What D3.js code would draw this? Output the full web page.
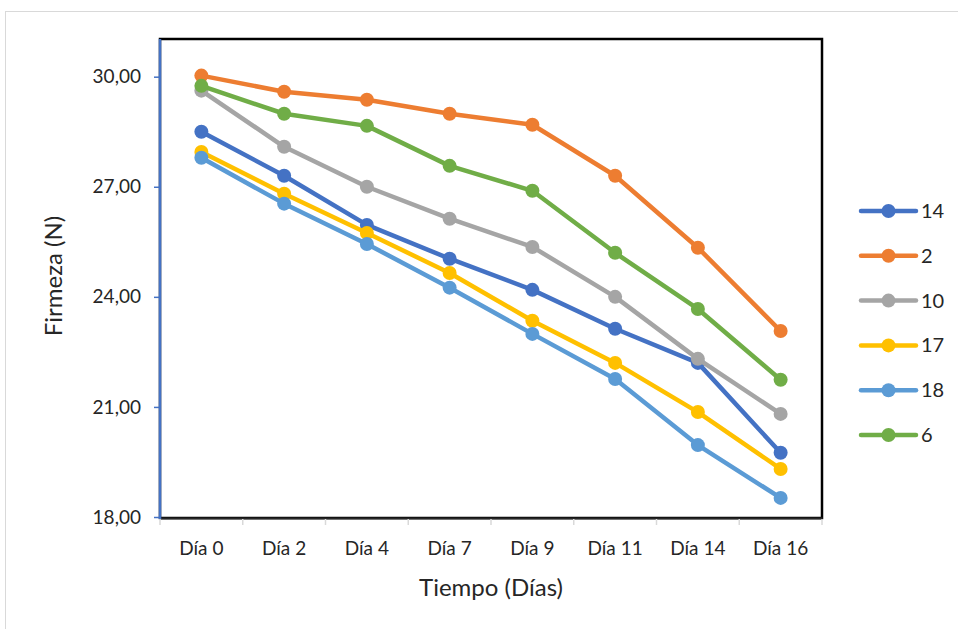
<!DOCTYPE html>
<html>
<head>
<meta charset="utf-8">
<script src="https://cdn.jsdelivr.net/npm/d3@7"></script>
<style>
  body { margin: 0; background: #fff; }
  text { font-family: Lato, "Open Sans", sans-serif; fill: #262626; }
</style>
</head>
<body>
<div id="chart"></div>
<script>
// categories and series
var days = ["Día 0", "Día 2", "Día 4", "Día 7", "Día 9", "Día 11", "Día 14", "Día 16"];
var seriesNames = ["14", "2", "10", "17", "18", "6"];
var seriesColors = ["#4472C4", "#ED7D31", "#A5A5A5", "#FFC000", "#5B9BD5", "#70AD47"];
var s14 = [28.50, 27.30, 25.96, 25.04, 24.19, 23.13, 22.20, 19.75];
var s2  = [30.03, 29.59, 29.37, 28.99, 28.69, 27.30, 25.34, 23.07];
var s10 = [29.62, 28.09, 27.00, 26.13, 25.36, 24.00, 22.31, 20.81];
var s17 = [27.95, 26.81, 25.74, 24.65, 23.35, 22.20, 20.86, 19.31];
var s18 = [27.79, 26.54, 25.44, 24.25, 22.99, 21.76, 19.96, 18.52];
var s6  = [29.75, 28.99, 28.66, 27.57, 26.89, 25.20, 23.67, 21.74];
var yTicks = [18, 21, 24, 27, 30];

var allSeries = [s14, s2, s10, s17, s18, s6];

var W = 958, H = 629;
var pLeft = 160, pRight = 822, pTop = 39, pBottom = 518;

var svg = d3.select("#chart").append("svg")
    .attr("width", W)
    .attr("height", H);

// outer chart frame
svg.append("rect")
    .attr("x", 5.5).attr("y", 11.5)
    .attr("width", 970).attr("height", 640)
    .attr("fill", "#fff")
    .attr("stroke", "#d9d9d9");

var x = d3.scaleBand().domain(days).range([pLeft, pRight]);
var y = d3.scaleLinear().domain([18, 31]).range([517, 40]);

// plot frame
svg.append("rect")
    .attr("x", pLeft).attr("y", pTop)
    .attr("width", pRight - pLeft).attr("height", pBottom - pTop)
    .attr("fill", "none")
    .attr("stroke", "#000")
    .attr("stroke-width", 2.5);

// x axis ticks (gray, between categories)
var xAxis = svg.append("g")
    .attr("transform", "translate(0," + pBottom + ")")
    .call(d3.axisBottom(x).tickSize(0).tickPadding(24));
xAxis.select(".domain").attr("stroke", "#262626").attr("stroke-width", 2);
xAxis.selectAll("text").style("font-size", "19px");
xAxis.selectAll(".sep")
    .data(d3.range(days.length + 1))
    .enter().append("line")
    .attr("class", "sep")
    .attr("x1", function(i) { return pLeft + i * x.step(); })
    .attr("x2", function(i) { return pLeft + i * x.step(); })
    .attr("y1", 1).attr("y2", 7)
    .attr("stroke", "#d9d9d9")
    .attr("stroke-width", 1.5);

// y axis (blue)
var yAxis = svg.append("g")
    .attr("transform", "translate(" + pLeft + ",0)")
    .call(d3.axisLeft(y).tickValues(yTicks).tickSize(6).tickPadding(13)
        .tickFormat(function(d) { return d3.format(".2f")(d).replace(".", ","); }));
yAxis.select(".domain").attr("stroke", "#4472C4").attr("stroke-width", 2.5)
    .attr("d", "M0," + (pBottom + 1) + "V" + pTop);
yAxis.selectAll(".tick line").attr("stroke", "#4472C4").attr("stroke-width", 1.5);
yAxis.selectAll("text").style("font-size", "19px");

// axis titles
svg.append("text")
    .attr("x", (pLeft + pRight) / 2).attr("y", 596)
    .attr("text-anchor", "middle")
    .style("font-size", "24px")
    .text("Tiempo (Días)");
svg.append("text")
    .attr("transform", "translate(62,276) rotate(-90)")
    .attr("text-anchor", "middle")
    .style("font-size", "24px")
    .text("Firmeza (N)");

// lines and markers
var line = d3.line()
    .x(function(d, i) { return x(days[i]) + x.bandwidth() / 2; })
    .y(function(d) { return y(d); });

allSeries.forEach(function(vals, k) {
    var g = svg.append("g");
    g.append("path")
        .datum(vals)
        .attr("d", line)
        .attr("fill", "none")
        .attr("stroke", seriesColors[k])
        .attr("stroke-width", 4.5)
        .attr("stroke-linejoin", "round");
    g.selectAll("circle")
        .data(vals)
        .enter().append("circle")
        .attr("cx", function(d, i) { return x(days[i]) + x.bandwidth() / 2; })
        .attr("cy", function(d) { return y(d); })
        .attr("r", 7)
        .attr("fill", seriesColors[k]);
});

// legend
var legend = svg.selectAll(".legend")
    .data(seriesNames)
    .enter().append("g")
    .attr("class", "legend")
    .attr("transform", function(d, i) { return "translate(861," + (211 + i * 44.8) + ")"; });
legend.append("line")
    .attr("x1", 0).attr("x2", 55)
    .attr("stroke", function(d, i) { return seriesColors[i]; })
    .attr("stroke-width", 4.5)
    .attr("stroke-linecap", "round");
legend.append("circle")
    .attr("cx", 27.5).attr("r", 7)
    .attr("fill", function(d, i) { return seriesColors[i]; });
legend.append("text")
    .attr("x", 60).attr("dy", "0.35em")
    .style("font-size", "20px")
    .text(function(d) { return d; });
</script>
</body>
</html>
